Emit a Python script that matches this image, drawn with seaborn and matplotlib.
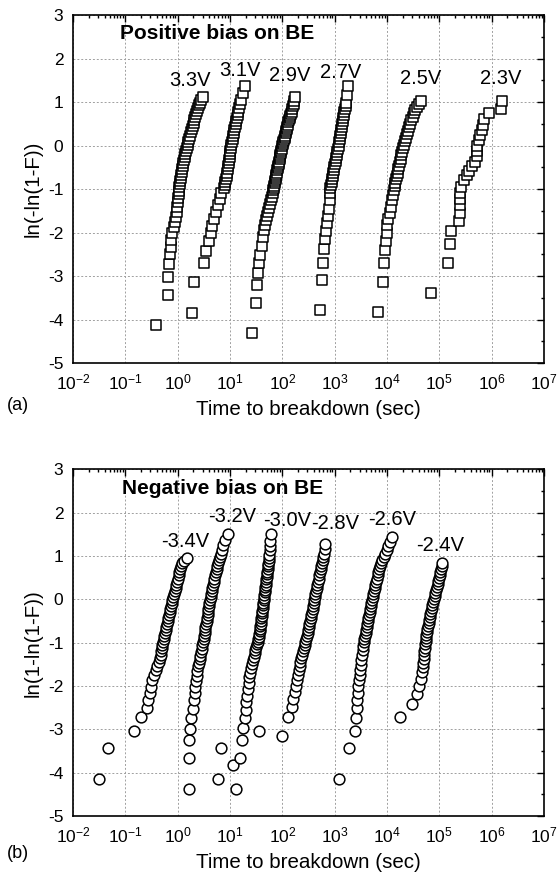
import matplotlib
matplotlib.use("Agg")
import matplotlib.pyplot as plt
from matplotlib.ticker import LogLocator, MultipleLocator, NullFormatter
import seaborn as sns
import pandas as pd
import numpy as np

# ---- panel (a): positive bias on BE, time to breakdown (s) and ln(-ln(1-F)) ----
t_p33 = [0.38, 0.66, 0.66, 0.69, 0.71, 0.73, 0.76, 0.78, 0.85, 0.88, 0.92, 0.95, 0.98, 1.0, 1.02, 1.04, 1.05,
         1.08, 1.10, 1.12, 1.14, 1.17, 1.20, 1.23, 1.26, 1.29, 1.32, 1.36, 1.40, 1.44, 1.49,
         1.55, 1.61, 1.67, 1.73, 1.79, 1.86, 1.94, 2.01, 2.09, 2.17, 2.26, 2.35, 2.45, 2.56, 2.67, 2.85, 3.1]
y_p33 = [-4.13, -3.43, -3.02, -2.72, -2.50, -2.33, -2.17, -2.01, -1.87, -1.76, -1.65, -1.53, -1.41, -1.29, -1.20, -1.12, -1.04,
         -0.96, -0.89, -0.82, -0.75, -0.68, -0.61, -0.54, -0.47, -0.40, -0.33, -0.26, -0.19, -0.12, -0.05,
         0.02, 0.09, 0.16, 0.23, 0.30, 0.37, 0.44, 0.51, 0.58, 0.65, 0.72, 0.79, 0.86, 0.93, 0.98, 1.04, 1.12]

t_p31 = [1.85, 2.08, 3.19, 3.5, 4.0, 4.3, 4.6, 5.0, 5.4, 6.0, 6.5, 6.6, 7.8, 8.0, 8.2, 8.4, 8.6, 8.8, 9.0, 9.2,
         9.4, 9.6, 9.8, 10.0, 10.2, 10.4, 10.6, 10.9, 11.2, 11.5, 11.8, 12.1, 12.4, 12.8, 13.2, 13.6, 14.0,
         14.5, 15.0, 15.6, 16.4, 17.5, 19.5]
y_p31 = [-3.84, -3.14, -2.71, -2.42, -2.20, -2.02, -1.85, -1.68, -1.52, -1.37, -1.22, -1.09, -0.97, -0.90, -0.83,
         -0.76, -0.69, -0.62, -0.55, -0.48, -0.41, -0.34, -0.27, -0.20, -0.13, -0.06, 0.01, 0.08, 0.15, 0.22,
         0.29, 0.36, 0.43, 0.50, 0.57, 0.64, 0.71, 0.78, 0.86, 0.95, 1.05, 1.20, 1.37]

t_p29 = [26, 31.7, 32.6, 34, 36, 38, 41, 43.5, 44.7, 47, 49, 51, 53, 55.5, 58, 61, 63, 65, 67,
         69, 70.3, 71.6, 73, 74.4, 75.8, 77.3, 78.8, 80.3, 81.8, 83.4, 85, 86.6, 88.3, 90, 91.7, 93.4, 95.2, 97, 98.8,
         101, 104, 107, 110, 113, 116, 119, 122, 125, 128, 131, 134, 138, 142, 146, 150, 154, 159, 164, 170, 177]
y_p29 = [-4.32, -3.62, -3.21, -2.92, -2.70, -2.51, -2.30, -2.10, -1.95, -1.82, -1.72, -1.62, -1.53, -1.44, -1.35,
         -1.26, -1.18, -1.10, -1.03,
         -0.97, -0.92, -0.87, -0.82, -0.77, -0.72, -0.67, -0.62, -0.57, -0.52, -0.47, -0.42, -0.37, -0.32, -0.27,
         -0.22, -0.17, -0.12, -0.07, -0.02,
         0.03, 0.08, 0.13, 0.18, 0.23, 0.28, 0.33, 0.38, 0.43, 0.48, 0.53, 0.58, 0.63, 0.68, 0.73, 0.78, 0.84,
         0.90, 0.96, 1.02, 1.12]

t_p27 = [532, 573, 600, 625, 650, 670, 700, 740, 775, 800, 815, 830,
         850, 872, 895, 918, 942, 966, 991, 1017, 1043, 1070, 1098, 1127, 1157, 1190,
         1220, 1250, 1280, 1310, 1340, 1370, 1400, 1430, 1465, 1500, 1535, 1570, 1610, 1650, 1700, 1780]
y_p27 = [-3.79, -3.10, -2.70, -2.39, -2.16, -1.97, -1.79, -1.62, -1.45, -1.26, -1.10, -0.98,
         -0.91, -0.84, -0.77, -0.70, -0.63, -0.56, -0.49, -0.42, -0.35, -0.28, -0.21, -0.14, -0.07, 0.0,
         0.07, 0.14, 0.21, 0.28, 0.35, 0.42, 0.49, 0.56, 0.63, 0.70, 0.77, 0.84, 0.91, 0.98, 1.16, 1.37]

t_p25 = [6760, 8300, 8840, 9200, 9500, 9800, 10100, 10600, 11200, 11800, 12500, 13000, 13500,
         14000, 14500, 15000, 15500, 16000, 16500, 17000, 17600, 18200, 18800, 19500, 20200, 21000,
         22000, 23000, 24000, 25200, 26500, 27800, 29200, 30700, 32500, 34500, 37000, 40000, 45000]
y_p25 = [-3.82, -3.13, -2.70, -2.41, -2.19, -2.01, -1.83, -1.68, -1.54, -1.41, -1.26, -1.14, -1.03,
         -0.94, -0.86, -0.78, -0.70, -0.62, -0.54, -0.46, -0.38, -0.30, -0.22, -0.14, -0.06, 0.02,
         0.10, 0.18, 0.26, 0.34, 0.42, 0.50, 0.58, 0.66, 0.74, 0.82, 0.89, 0.96, 1.03]

t_p23 = [70300, 146000, 160000, 165000, 238000, 245000, 245000, 245000, 250000, 264000, 296000, 333000,
         369000, 429000, 481000, 519000, 525000, 531000, 575000, 603000, 640000, 676000, 716000, 906000,
         1.49e6, 1.55e6]
y_p23 = [-3.40, -2.69, -2.27, -1.96, -1.73, -1.54, -1.37, -1.23, -1.09, -0.96, -0.80, -0.68,
         -0.58, -0.47, -0.38, -0.24, -0.12, 0.0, 0.12, 0.24, 0.35, 0.47, 0.60, 0.74, 0.85, 1.03]

# ---- panel (b): negative bias on BE ----
t_n34 = [0.032, 0.047, 0.146, 0.198, 0.26, 0.27, 0.29, 0.31, 0.33, 0.35, 0.38, 0.41, 0.44, 0.46, 0.48, 0.49,
         0.50, 0.51, 0.53, 0.545, 0.56, 0.575, 0.59, 0.605, 0.62, 0.64, 0.66, 0.68, 0.70, 0.72, 0.745, 0.77,
         0.795, 0.82, 0.85, 0.88, 0.91, 0.94, 0.97, 1.0, 1.04, 1.08, 1.12, 1.17, 1.23, 1.32, 1.49]
y_n34 = [-4.14, -3.44, -3.04, -2.71, -2.50, -2.33, -2.17, -2.02, -1.87, -1.75, -1.63, -1.53, -1.44, -1.36, -1.28,
         -1.20, -1.13, -1.06, -0.99, -0.92, -0.85, -0.78, -0.71, -0.64, -0.57, -0.50, -0.43, -0.36, -0.29,
         -0.22, -0.15, -0.08, -0.01, 0.06, 0.13, 0.20, 0.27, 0.34, 0.41, 0.48, 0.55, 0.62, 0.69, 0.76, 0.83,
         0.89, 0.95]

t_n32 = [1.65, 1.67, 1.67, 1.70, 5.8, 6.7, 1.80, 1.92, 2.02, 2.10, 2.15, 2.22, 2.30, 2.38, 2.46, 2.54, 2.62,
         2.70, 2.78, 2.87, 2.96, 3.05, 3.12, 3.19, 3.26, 3.33, 3.40, 3.48, 3.56, 3.64, 3.72, 3.80, 3.88, 3.96,
         4.05, 4.14, 4.25, 4.37, 4.49, 4.62, 4.76, 4.90, 5.05, 5.20, 5.36, 5.53, 5.71, 5.90, 6.10, 6.30, 6.6,
         6.9, 7.3, 7.9, 9.3]
y_n32 = [-4.37, -3.67, -3.25, -3.0, -4.14, -3.44, -2.73, -2.52, -2.33, -2.17, -2.02, -1.88, -1.76, -1.65, -1.55,
         -1.46, -1.38, -1.30, -1.22, -1.14, -1.06, -0.99, -0.92, -0.85, -0.78, -0.71, -0.64, -0.57, -0.50,
         -0.43, -0.36, -0.29, -0.22, -0.15, -0.08, -0.01, 0.06, 0.13, 0.20, 0.27, 0.34, 0.41, 0.48, 0.55,
         0.62, 0.69, 0.76, 0.83, 0.90, 0.97, 1.05, 1.14, 1.25, 1.37, 1.50]

t_n30 = [11.6, 13.1, 15.6, 36.5, 17.2, 18.0, 19.0, 19.8, 20.5, 21.0, 21.8, 22.6, 23.5, 24.5, 25.5, 26.5, 27.5,
         28.5, 29.5, 30.5, 31.6, 32.7, 33.8, 35.0, 35.6, 36.2, 36.8, 37.4, 38.0, 38.6, 39.2, 39.8, 40.4,
         41.0, 41.6, 42.2, 42.8, 43.4, 44.0, 44.7, 45.4, 46.1, 46.8, 47.5, 48.2, 48.9, 49.6, 50.3, 51.0,
         51.7, 52.4, 53.1, 53.8, 54.5, 55.2, 56, 57, 58, 59, 60.5]
y_n30 = [-3.83, -4.37, -3.67, -3.04, -3.25, -2.98, -2.75, -2.56, -2.37, -2.22, -2.06, -1.92, -1.80, -1.69,
         -1.59, -1.50, -1.41, -1.33, -1.25, -1.18, -1.11, -1.04, -0.98, -0.92, -0.86, -0.80, -0.74, -0.68,
         -0.62, -0.56, -0.50, -0.44, -0.38, -0.32, -0.26, -0.20, -0.14, -0.08, -0.02, 0.04, 0.10, 0.16,
         0.22, 0.28, 0.34, 0.40, 0.46, 0.52, 0.58, 0.64, 0.70, 0.76, 0.82, 0.88, 0.95, 1.03, 1.13, 1.23,
         1.35, 1.50]

t_n28 = [98, 131, 150, 163, 175, 186, 193, 200, 207, 214, 222, 230, 239, 248, 257, 266, 276, 285, 294, 303,
         312, 321, 330, 340, 350, 360, 370, 380, 388, 394, 400, 412, 424, 437, 450, 463, 477, 491, 506, 521,
         537, 553, 570, 587, 604, 620, 640, 661]
y_n28 = [-3.15, -2.72, -2.48, -2.29, -2.14, -1.99, -1.86, -1.74, -1.63, -1.53, -1.44, -1.36, -1.28, -1.20,
         -1.13, -1.06, -0.99, -0.92, -0.85, -0.78, -0.71, -0.64, -0.57, -0.50, -0.43, -0.36, -0.29, -0.22,
         -0.15, -0.08, -0.01, 0.06, 0.13, 0.20, 0.27, 0.34, 0.41, 0.48, 0.55, 0.62, 0.69, 0.76, 0.83, 0.90,
         0.97, 1.05, 1.16, 1.27]

t_n26 = [1190, 1900, 2450, 2520, 2620, 2700, 2780, 2850, 2930, 3010, 3090, 3170, 3250, 3340, 3430, 3520,
         3610, 3700, 3800, 3900, 4000, 4100, 4200, 4310, 4420, 4540, 4660, 4790, 4920, 5050, 5200, 5350,
         5500, 5660, 5830, 6000, 6200, 6400, 6620, 6850, 7100, 7380, 7700, 8100, 8600, 9200, 9900, 10600,
         11500, 12600]
y_n26 = [-4.14, -3.44, -3.04, -2.73, -2.50, -2.33, -2.16, -2.01, -1.87, -1.74, -1.62, -1.51, -1.40, -1.29,
         -1.18, -1.08, -0.99, -0.92, -0.85, -0.78, -0.71, -0.64, -0.57, -0.50, -0.43, -0.36, -0.29, -0.22,
         -0.15, -0.08, -0.01, 0.06, 0.13, 0.20, 0.27, 0.34, 0.41, 0.48, 0.55, 0.62, 0.69, 0.76, 0.83, 0.90,
         0.97, 1.05, 1.13, 1.22, 1.33, 1.44]

t_n24 = [17400, 30400, 38000, 40800, 43700, 47300, 48600, 49500, 50500, 51300, 52000, 52700, 53500, 54500,
         55600, 56800, 58000, 59300, 60700, 62200, 63800, 65500, 67300, 69200, 71300, 73500, 75800, 78300,
         81000, 84000, 87000, 90000, 93000, 96000, 99000, 102000, 105000, 108000, 111000, 114000]
y_n24 = [-2.71, -2.42, -2.19, -2.00, -1.83, -1.67, -1.56, -1.47, -1.38, -1.29, -1.20, -1.12, -1.04, -0.97,
         -0.90, -0.83, -0.76, -0.69, -0.62, -0.55, -0.48, -0.41, -0.34, -0.27, -0.20, -0.13, -0.06, 0.01,
         0.08, 0.15, 0.22, 0.29, 0.36, 0.43, 0.50, 0.57, 0.64, 0.71, 0.78, 0.84]

# series labels and where the voltage tags sit (time, y)
pos_labels = ["3.3V", "3.1V", "2.9V", "2.7V", "2.5V", "2.3V"]
pos_tag_t = [1.72, 15.7, 141, 1290, 43700, 1.48e6]
pos_tag_y = [1.50, 1.73, 1.62, 1.69, 1.55, 1.55]
neg_labels = ["-3.4V", "-3.2V", "-3.0V", "-2.8V", "-2.6V", "-2.4V"]
neg_tag_t = [1.39, 11, 124, 1020, 12600, 105000]
neg_tag_y = [1.34, 1.90, 1.83, 1.76, 1.85, 1.25]


def long_table(times, ys, labels):
    rows = []
    for t, y, lab in zip(times, ys, labels):
        for a, b in zip(t, y):
            rows.append({"time": a, "weib": b, "V": lab})
    return pd.DataFrame(rows)


df_pos = long_table([t_p33, t_p31, t_p29, t_p27, t_p25, t_p23],
                    [y_p33, y_p31, y_p29, y_p27, y_p25, y_p23], pos_labels)
df_neg = long_table([t_n34, t_n32, t_n30, t_n28, t_n26, t_n24],
                    [y_n34, y_n32, y_n30, y_n28, y_n26, y_n24], neg_labels)

sns.set_theme(style="white")
plt.rcParams["font.family"] = ["Liberation Sans", "DejaVu Sans"]
plt.rcParams["mathtext.fontset"] = "custom"
plt.rcParams["mathtext.rm"] = "Liberation Sans"
plt.rcParams["mathtext.it"] = "Liberation Sans:italic"
plt.rcParams["mathtext.default"] = "regular"
plt.rcParams["axes.unicode_minus"] = False
plt.rcParams["text.color"] = "black"
plt.rcParams["axes.labelcolor"] = "black"

fig = plt.figure(figsize=(5.59, 8.85), dpi=100)
ax_a = fig.add_axes([0.1306, 0.5898, 0.8426, 0.3932])
ax_b = fig.add_axes([0.1306, 0.0780, 0.8426, 0.3917])


def style_axes(ax, ylab):
    ax.set_xscale("log")
    ax.set_xlim(1e-2, 1e7)
    ax.set_ylim(-5, 3)
    ax.xaxis.set_major_locator(LogLocator(base=10, numticks=15))
    ax.xaxis.set_minor_locator(LogLocator(base=10, subs=np.arange(2, 10), numticks=15))
    ax.xaxis.set_minor_formatter(NullFormatter())
    ax.yaxis.set_major_locator(MultipleLocator(1))
    ax.yaxis.set_minor_locator(MultipleLocator(0.5))
    ax.tick_params(which="both", direction="in", top=True, right=True, colors="black",
                   labelsize=12.5, width=1.0)
    ax.tick_params(which="major", length=5)
    ax.tick_params(which="minor", length=2.5)
    ax.tick_params(axis="x", which="major", pad=7)
    ax.tick_params(axis="y", which="major", pad=7)
    ax.grid(True, which="major", linestyle=(0, (2, 2)), color="#a0a0a0", linewidth=0.7)
    ax.set_axisbelow(True)
    for sp in ax.spines.values():
        sp.set_color("black")
        sp.set_linewidth(1.2)
    ax.set_xlabel("Time to breakdown (sec)", fontsize=14.8, labelpad=5)
    ax.set_ylabel(ylab, fontsize=14.8, labelpad=4)


sns.scatterplot(data=df_pos, x="time", y="weib", marker="s", s=50, color="white",
                edgecolor="black", linewidth=1.1, legend=False, ax=ax_a)
sns.scatterplot(data=df_neg, x="time", y="weib", marker="o", s=60, color="white",
                edgecolor="black", linewidth=1.1, legend=False, ax=ax_b)

style_axes(ax_a, "ln(-ln(1-F))")
style_axes(ax_b, "ln(1-ln(1-F))")

for lab, tx, ty in zip(pos_labels, pos_tag_t, pos_tag_y):
    ax_a.text(tx, ty, lab, ha="center", va="center", fontsize=14.5)
for lab, tx, ty in zip(neg_labels, neg_tag_t, neg_tag_y):
    ax_b.text(tx, ty, lab, ha="center", va="center", fontsize=14.5)

ax_a.text(0.10, 0.948, "Positive bias on BE", transform=ax_a.transAxes,
          fontsize=15, fontweight="bold", va="center", ha="left")
ax_b.text(0.105, 0.945, "Negative bias on BE", transform=ax_b.transAxes,
          fontsize=15, fontweight="bold", va="center", ha="left")

fig.text(0.012, 1 - 406 / 885, "(a)", fontsize=13, va="center", ha="left")
fig.text(0.012, 1 - 854 / 885, "(b)", fontsize=13, va="center", ha="left")

fig.savefig("out.png", dpi=100)
